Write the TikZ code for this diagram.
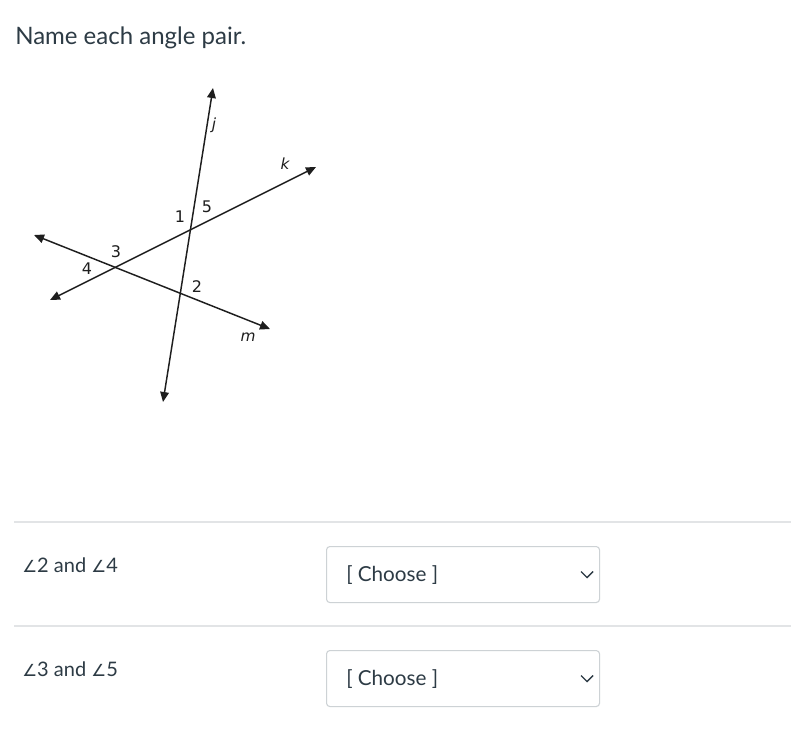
\documentclass[tikz,border=0pt]{standalone}
\usepackage{fontspec}
\usepackage{xcolor}
\usetikzlibrary{arrows.meta}
\setmainfont{Lato}
\newfontfamily\figfont{DejaVu Sans}
\definecolor{ink}{HTML}{2D3B45}
\definecolor{rule}{HTML}{E2E4E6}
\definecolor{edge}{HTML}{CDD2D5}
\definecolor{pen}{HTML}{1E1E1E}

\begin{document}
\begin{tikzpicture}[x=0.75pt,y=-0.75pt,
        geoline/.style={draw=pen,line width=1.1pt,{Triangle[length=7.5pt,width=6.5pt]}-{Triangle[length=7.5pt,width=6.5pt]}},
        num/.style={font=\figfont\fontsize{12}{14}\selectfont,text=pen,inner sep=0pt},
        lname/.style={num,font=\figfont\itshape\fontsize{11.5}{14}\selectfont},
        plain/.style={text=ink,anchor=base west,inner sep=0pt},
        choicebox/.style={draw=edge,line width=0.8pt,rounded corners=2.5pt,anchor=north west,minimum width=204.75pt,minimum height=42pt,inner sep=0pt},
        chev/.style={draw=ink,line width=1pt}]
        \fill[white] (0,0) rectangle (799,733);
        \useasboundingbox (0,0) rectangle (799,733);
        \node[plain,font=\fontsize{18}{22}\selectfont](title) at (15,44) {Name each angle pair.};
        % the three lines
        \coordinate(jtop) at (213,88);
        \coordinate(jbot) at (163,402);
        \coordinate(kright) at (316,167);
        \coordinate(kleft) at (50,300);
        \coordinate(mleft) at (34,235);
        \coordinate(mright) at (270,329);
        \draw[geoline](jbot)--(jtop);
        \draw[geoline](kleft)--(kright);
        \draw[geoline](mleft)--(mright);
        \node[lname](j) at (214,125) {j};
        \node[lname](k) at (285,164) {k};
        \node[lname](m) at (248,337) {m};
        \node[num](one) at (180,217) {1};
        \node[num](five) at (207,207) {5};
        \node[num](three) at (116,252) {3};
        \node[num](four) at (87,269) {4};
        \node[num](two) at (197,287) {2};
        % answer rows
        \draw[rule,line width=0.8pt](14,522)--(791,522);
        \draw[rule,line width=0.8pt](14,626)--(791,626);
        \node[plain,font=\fontsize{15}{18}\selectfont](rowa) at (22,572) {{\figfont\fontsize{12.5}{14}\selectfont ∠}2 and {\figfont\fontsize{12.5}{14}\selectfont ∠}4};
        \node[plain,font=\fontsize{15}{18}\selectfont](rowb) at (22,676) {{\figfont\fontsize{12.5}{14}\selectfont ∠}3 and {\figfont\fontsize{12.5}{14}\selectfont ∠}5};
        \node[choicebox](sela) at (326,546) {};
        \node[choicebox](selb) at (326,650) {};
        \node[plain,font=\fontsize{15.5}{18}\selectfont](cha) at (346,581) {[ Choose ]};
        \node[plain,font=\fontsize{15.5}{18}\selectfont](chb) at (346,685) {[ Choose ]};
        \draw[chev]([xshift=-14.25pt,yshift=2.25pt]sela.east)--++(4.5pt,-4.5pt)--++(4.5pt,4.5pt);
        \draw[chev]([xshift=-14.25pt,yshift=2.25pt]selb.east)--++(4.5pt,-4.5pt)--++(4.5pt,4.5pt);
        \end{tikzpicture}
\end{document}
